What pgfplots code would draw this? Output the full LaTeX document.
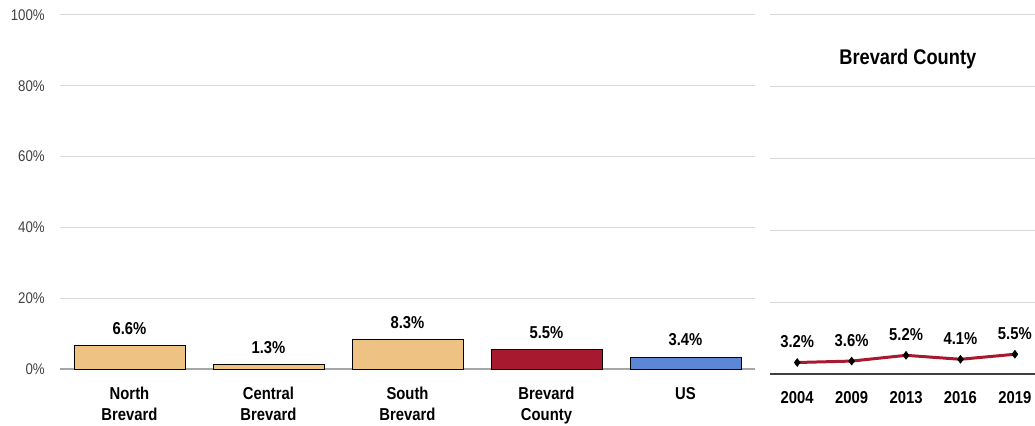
\documentclass[border=0pt]{standalone}
\usepackage{fontspec}
\setmainfont[FakeStretch=0.86]{Liberation Sans}
\usepackage{pgfplots}
\pgfplotsset{compat=1.18}
\pgfplotsset{/pgf/number format/assume math mode=true}
\definecolor{tanbar}{HTML}{EDC283}
\definecolor{brevred}{HTML}{A6192E}
\definecolor{usblue}{HTML}{5B87D6}
\definecolor{gridgray}{HTML}{D9D9D9}
\definecolor{ticktext}{HTML}{404040}
\definecolor{basegray}{HTML}{A6A6A6}
\definecolor{darkbase}{HTML}{404040}
\newcommand\boldlab{\fontsize{17.3}{21}\selectfont\bfseries}
\newcommand\ticklab{\fontsize{15.5}{18}\selectfont}
\newcommand\titlelab{\fontsize{21.3}{24}\selectfont\bfseries}
\begin{document}
\begin{tikzpicture}
\useasboundingbox (0,0) rectangle (1035bp,426bp);
\begin{axis}[
  at={(60bp,57bp)}, anchor=south west,
  scale only axis, width=695bp, height=354bp,
  xmin=-0.5, xmax=4.5, ymin=0, ymax=100,
  xtick={0,1,2,3,4},
  xticklabels={{North\\Brevard},{Central\\Brevard},{South\\Brevard},{Brevard\\County},{US}},
  xticklabel style={font=\boldlab, align=center, anchor=north, inner sep=0pt, yshift=-18bp},
  ytick={0,20,40,60,80,100},
  yticklabels={0\%,20\%,40\%,60\%,80\%,100\%},
  yticklabel style={font=\ticklab, text=ticktext, anchor=east, inner sep=0pt, xshift=-15bp},
  ymajorgrids, grid style={gridgray, line width=1bp},
  major tick length=0pt,
  axis x line*=bottom, axis y line*=left,
  x axis line style={-, draw=basegray, line width=1.2bp},
  y axis line style={draw=none},
  clip=false,
  nodes near coords={\pgfmathprintnumber[fixed,fixed zerofill,precision=1]{\pgfplotspointmeta}\%},
  nodes near coords style={font=\boldlab, text=black, anchor=base, inner sep=0pt, yshift=11bp},
]
\addplot[ybar, bar shift=0pt, bar width=111bp, fill=tanbar, draw=black, line width=0.8bp]
  coordinates {(0,6.6) (1,1.3) (2,8.3)};
\addplot[ybar, bar shift=0pt, bar width=111bp, fill=brevred, draw=black, line width=0.8bp]
  coordinates {(3,5.5)};
\addplot[ybar, bar shift=0pt, bar width=111bp, fill=usblue, draw=black, line width=0.8bp]
  coordinates {(4,3.4)};
\end{axis}
\begin{axis}[
  at={(770bp,52bp)}, anchor=south west,
  scale only axis, width=265bp, height=359bp,
  xmin=-0.5, xmax=4.37, ymin=0, ymax=100,
  xtick={0,1,2,3,4},
  xticklabels={2004,2009,2013,2016,2019},
  xticklabel style={font=\boldlab, anchor=north, inner sep=0pt, yshift=-17.5bp},
  ytick={0,20,40,60,80,100},
  yticklabels={},
  ymajorgrids, grid style={gridgray, line width=1bp},
  major tick length=0pt,
  axis x line*=bottom, axis y line*=left,
  x axis line style={-, draw=darkbase, line width=1.2bp},
  y axis line style={draw=none},
  clip=false,
  title={Brevard County},
  title style={at={(0.52,0.862)}, anchor=center, font=\titlelab},
  nodes near coords={\pgfmathprintnumber[fixed,fixed zerofill,precision=1]{\pgfplotspointmeta}\%},
  nodes near coords style={font=\boldlab, text=black, anchor=base, inner sep=0pt, yshift=15bp},
]
\addplot[brevred, line width=3bp, mark=diamond*, mark size=4bp,
  mark options={fill=black, draw=black, solid, line width=0.5bp}]
  coordinates {(0,3.2) (1,3.6) (2,5.2) (3,4.1) (4,5.5)};
\end{axis}
\end{tikzpicture}
\end{document}
